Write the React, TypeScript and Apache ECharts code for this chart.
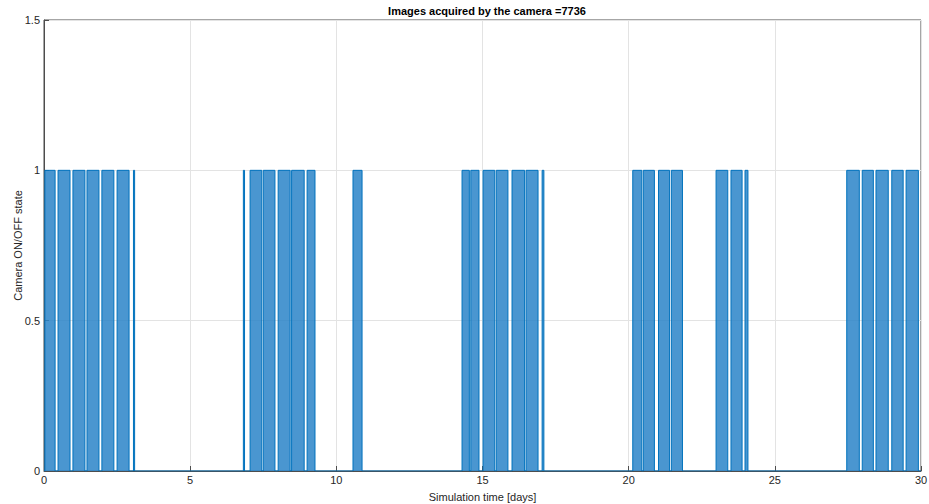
import React, { useEffect, useRef } from "react";
import * as echarts from "echarts";

// Camera ON intervals [days]
const onStart = [
  0.03, 0.48, 0.99, 1.47, 1.98, 2.5, 3.06,
  6.82, 7.05, 7.5, 8.01, 8.47, 9.0, 10.57,
  14.3, 14.6, 15.02, 15.47, 16.01, 16.49, 17.04,
  20.14, 20.5, 21.02, 21.46, 22.99, 23.5, 23.98,
  27.46, 27.99, 28.46, 29.0, 29.49,
];
const onEnd = [
  0.38, 0.89, 1.4, 1.88, 2.39, 2.91, 3.1,
  6.86, 7.45, 7.9, 8.42, 8.9, 9.27, 10.88,
  14.55, 14.88, 15.42, 15.87, 16.44, 16.9, 17.1,
  20.45, 20.88, 21.4, 21.84, 23.39, 23.88, 24.08,
  27.89, 28.37, 28.88, 29.39, 29.91,
];
const xTicks = [0, 5, 10, 15, 20, 25, 30];
const yTicks = [0, 0.5, 1, 1.5];
const titleText = "Images acquired by the camera =7736";
const xLabel = "Simulation time [days]";
const yLabel = "Camera ON/OFF state";

export default function App() {
  const ref = useRef<HTMLDivElement>(null);
  useEffect(() => {
    document.body.style.margin = "0";
    if (!ref.current) return;
    const chart = echarts.init(ref.current, undefined, { renderer: "svg" });
    const pts: number[][] = [[0, 0]];
    for (let i = 0; i < onStart.length; i++) {
      pts.push([onStart[i], 0], [onStart[i], 1], [onEnd[i], 1], [onEnd[i], 0]);
    }
    pts.push([30, 0]);
    const font = "Liberation Sans, Arial, sans-serif";
    chart.setOption({
      animation: false,
      backgroundColor: "#ffffff",
      title: {
        text: titleText,
        left: 482,
        top: 0,
        textAlign: "center",
        textStyle: { fontSize: 11, fontWeight: "bold", color: "#000", fontFamily: font },
      },
      grid: {
        left: 44,
        right: 8,
        top: 20,
        bottom: 33,
        outerBoundsMode: "none",
        containLabel: false,
        show: true,
        borderColor: "#4d4d4d",
        borderWidth: 1,
        backgroundColor: "#fff",
      },
      xAxis: {
        type: "value",
        min: 0,
        max: 30,
        interval: 5,
        name: xLabel,
        nameLocation: "middle",
        nameGap: 20,
        nameMoveOverlap: false,
        nameTextStyle: { fontSize: 11, color: "#262626", fontFamily: font },
        axisLine: { show: true, lineStyle: { color: "#4d4d4d" } },
        axisTick: { show: true, inside: true, length: 5, lineStyle: { color: "#4d4d4d" } },
        axisLabel: {
          fontSize: 11,
          color: "#262626",
          fontFamily: font,
          margin: 3,
          formatter: (v: number) => (xTicks.includes(v) ? String(v) : ""),
        },
        splitLine: { show: true, lineStyle: { color: "#e3e3e3", width: 1 } },
      },
      yAxis: {
        type: "value",
        min: 0,
        max: 1.5,
        interval: 0.5,
        name: yLabel,
        nameLocation: "middle",
        nameGap: 21,
        nameMoveOverlap: false,
        nameRotate: 90,
        nameTextStyle: { fontSize: 11, color: "#262626", fontFamily: font },
        axisLine: { show: true, lineStyle: { color: "#4d4d4d" } },
        axisTick: { show: true, inside: true, length: 5, lineStyle: { color: "#4d4d4d" } },
        axisLabel: {
          fontSize: 11,
          color: "#262626",
          fontFamily: font,
          margin: 4,
          formatter: (v: number) => (yTicks.includes(v) ? String(v) : ""),
        },
        splitLine: { show: true, lineStyle: { color: "#e3e3e3", width: 1 } },
      },
      series: [
        {
          type: "line",
          data: pts,
          showSymbol: false,
          lineStyle: { color: "#0072BD", width: 1 },
          areaStyle: { color: "#2a84c8", opacity: 0.85 },
          silent: true,
        },
      ],
    });
    return () => chart.dispose();
  }, []);
  return <div ref={ref} style={{ width: 929, height: 504 }} />;
}
